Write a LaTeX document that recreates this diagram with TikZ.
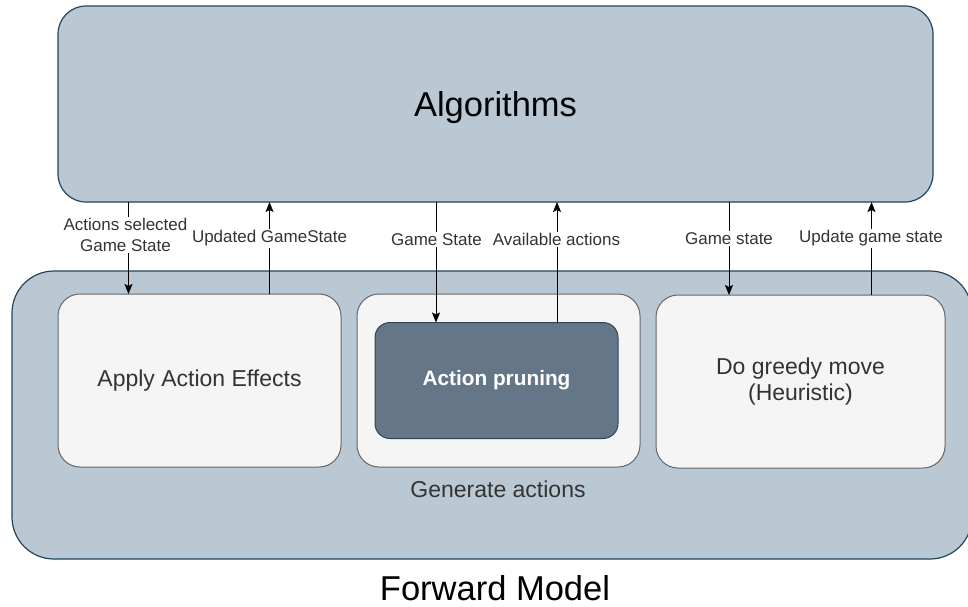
\documentclass[tikz,border=0pt]{standalone}
\usepackage{fontspec}
\setmainfont{Liberation Sans}
\usetikzlibrary{arrows.meta}
\definecolor{blueFill}{HTML}{BAC8D3}
\definecolor{blueLine}{HTML}{23445D}
\definecolor{greyFill}{HTML}{F5F5F5}
\definecolor{greyLine}{HTML}{666666}
\definecolor{darkFill}{HTML}{647687}
\definecolor{darkLine}{HTML}{314354}
\definecolor{txt}{HTML}{333333}
\tikzset{
  outerbox/.style={draw=blueLine, fill=blueFill, line width=1.2pt, inner sep=0pt, outer sep=0pt},
  innerbox/.style={draw=greyLine, fill=greyFill, line width=1pt, rounded corners=22pt, inner sep=0pt, outer sep=0pt, text=txt, align=center, font=\fontsize{23}{26.5}\selectfont},
  darkbox/.style={draw=darkLine, fill=darkFill, line width=1pt, rounded corners=15pt, inner sep=0pt, outer sep=0pt, text=white, font=\bfseries\fontsize{20.8}{24}\selectfont},
  arr/.style={line width=1pt, -{Stealth[length=10pt, width=8pt, inset=2pt]}},
  lbl/.style={fill=white, inner sep=1.5pt, text=txt, align=center, font=\fontsize{17}{21}\selectfont},
  title/.style={font=\fontsize{34.5}{40}\selectfont, text=black, inner sep=0pt, anchor=base}
}
\begin{document}
\begin{tikzpicture}[x=1pt, y=-1pt]
\useasboundingbox (0,0) rectangle (968,606);
\clip (0,0) rectangle (968,606);
\fill[white] (0,0) rectangle (968,606);

% algorithm layer
\node[outerbox, rounded corners=28pt, minimum width=875pt, minimum height=196pt] (alg) at (495.5,104) {};
\node[title] (algtext) at (495.5,116) {Algorithms};

% forward model container
\node[outerbox, rounded corners=42pt, minimum width=960pt, minimum height=288pt] (fm) at (492,415) {};
\node[title] (fmtext) at (495,600) {Forward Model};

% inner components
\node[innerbox, minimum width=283pt, minimum height=173pt] (apply) at (199.5,380.5) {Apply Action Effects};
\node[innerbox, minimum width=283pt, minimum height=173pt] (gen) at (498.5,380.5) {};
\node[innerbox, minimum width=289pt, minimum height=173pt] (greedy) at (800.5,381.5) {Do greedy move\\(Heuristic)};
\node[darkbox, minimum width=243pt, minimum height=116pt] (prune) at (496.5,380.5) {Action pruning};
\node[text=txt, font=\fontsize{23}{26}\selectfont] (gentext) at (498,489) {Generate actions};

% connector columns
\coordinate (c1) at (128.5,0);
\coordinate (c2) at (269.5,0);
\coordinate (c3) at (436,0);
\coordinate (c4) at (557,0);
\coordinate (c5) at (729,0);
\coordinate (c6) at (871.5,0);

\draw[arr] (alg.south -| c1) -- (apply.north -| c1);
\draw[arr] (apply.north -| c2) -- (alg.south -| c2);
\draw[arr] (alg.south -| c3) -- (prune.north -| c3);
\draw[arr] (prune.north -| c4) -- (alg.south -| c4);
\draw[arr] (alg.south -| c5) -- (greedy.north -| c5);
\draw[arr] (greedy.north -| c6) -- (alg.south -| c6);

% connector labels
\node[lbl] (l1) at (125.5,235) {Actions selected\\Game State};
\node[lbl] (l2) at (269.5,238.5) {Updated GameState};
\node[lbl] (l3) at (436.5,239.5) {Game State};
\node[lbl] (l4) at (556.5,239.5) {Available actions};
\node[lbl] (l5) at (729,238.5) {Game state};
\node[lbl] (l6) at (871,238.5) {Update game state};
\end{tikzpicture}
\end{document}
